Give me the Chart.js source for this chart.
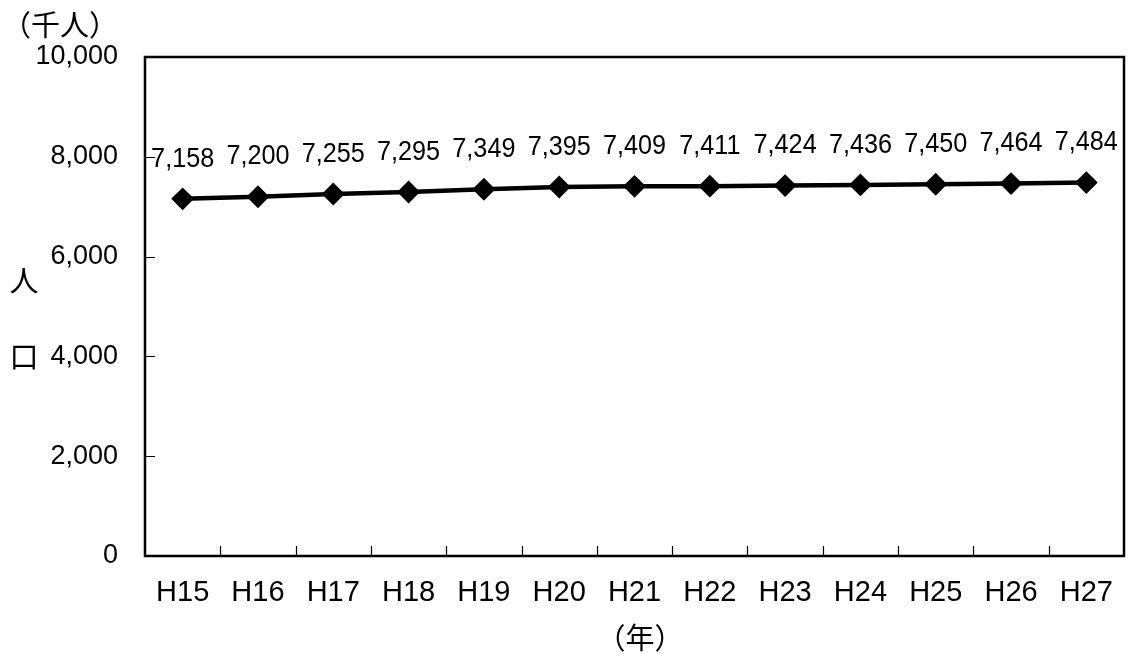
<!DOCTYPE html>
<html>
<head>
<meta charset="utf-8">
<script src="https://cdn.jsdelivr.net/npm/chart.js@4/dist/chart.umd.min.js"></script>
<style>
  html, body { margin: 0; padding: 0; background: #fff; overflow: hidden; }
  #wrap { width: 1128px; height: 654px; position: relative; }
  canvas { display: block; }
</style>
</head>
<body>
<div id="wrap"><canvas id="c"></canvas></div>
<script>
// 年次別の人口（千人）
const years = ['H15', 'H16', 'H17', 'H18', 'H19', 'H20', 'H21', 'H22', 'H23', 'H24', 'H25', 'H26', 'H27'];
const population = [7158, 7200, 7255, 7295, 7349, 7395, 7409, 7411, 7424, 7436, 7450, 7464, 7484];
const yTicks = [0, 2000, 4000, 6000, 8000, 10000];

const fmt = v => v.toLocaleString('en-US');
const CJK = '"Noto Sans CJK JP", "Noto Sans CJK SC", sans-serif';

// 枠線・目盛り線・軸見出し・データラベル
const decorations = {
  id: 'decorations',
  afterDraw(chart) {
    const { ctx, chartArea: a, scales: { x, y } } = chart;
    ctx.save();
    ctx.strokeStyle = '#000';

    // 内向きの目盛り線
    ctx.lineWidth = 1.2;
    ctx.beginPath();
    yTicks.forEach(v => {
      const py = Math.round(y.getPixelForValue(v)) + 0.5;
      ctx.moveTo(a.left, py);
      ctx.lineTo(a.left + 10, py);
    });
    for (let i = 1; i < years.length; i++) {
      const px = Math.round((x.getPixelForValue(i - 1) + x.getPixelForValue(i)) / 2) + 0.5;
      ctx.moveTo(px, a.bottom);
      ctx.lineTo(px, a.bottom - 10);
    }
    ctx.stroke();

    // プロット領域の枠
    ctx.lineWidth = 2.5;
    ctx.strokeRect(a.left, a.top, a.right - a.left, a.bottom - a.top);

    // データラベル
    ctx.fillStyle = '#000';
    ctx.font = '28px "Liberation Sans", Arial, sans-serif';
    ctx.textAlign = 'center';
    ctx.textBaseline = 'middle';
    chart.getDatasetMeta(0).data.forEach((pt, i) => {
      ctx.save();
      ctx.translate(pt.x, pt.y - 40);
      ctx.scale(0.9, 1);
      ctx.fillText(fmt(population[i]), 0, 0);
      ctx.restore();
    });

    // 単位・軸見出し
    ctx.font = '29px ' + CJK;
    ctx.textAlign = 'left';
    ctx.fillText('（千人）', 2, 25);
    ctx.textAlign = 'center';
    ctx.fillText('人', 24, 281);
    ctx.fillText('口', 24, 357);
    ctx.fillText('（年）', 640, 638);
    ctx.restore();
  }
};

new Chart(document.getElementById('c'), {
  type: 'line',
  data: {
    labels: years,
    datasets: [{
      data: population,
      borderColor: '#000',
      backgroundColor: '#000',
      borderWidth: 4.5,
      pointStyle: 'rectRot',
      pointRadius: 10,
      pointBorderWidth: 2,
      pointBorderColor: '#000',
      pointBackgroundColor: '#000',
      tension: 0,
      clip: false
    }]
  },
  options: {
    responsive: true,
    maintainAspectRatio: false,
    animation: false,
    events: [],
    layout: { autoPadding: false, padding: { top: 57, right: 4, bottom: 0, left: 0 } },
    plugins: { legend: { display: false }, tooltip: { enabled: false } },
    scales: {
      x: {
        offset: true,
        grid: { display: false, drawTicks: false },
        border: { display: false },
        ticks: {
          color: '#000',
          padding: 20,
          maxRotation: 0,
          font: { family: '"Liberation Sans", Arial, sans-serif', size: 29 }
        },
        afterFit(s) { s.height = 98; s.paddingLeft = 0; s.paddingRight = 0; }
      },
      y: {
        min: 0,
        max: 10000,
        afterBuildTicks(s) { s.ticks = yTicks.map(v => ({ value: v })); },
        grid: { display: false, drawTicks: false },
        border: { display: false },
        ticks: {
          color: '#000',
          padding: 27,
          font: { family: '"Liberation Sans", Arial, sans-serif', size: 27 },
          callback: v => fmt(v)
        },
        afterFit(s) { s.width = 145; s.paddingTop = 0; s.paddingBottom = 0; }
      }
    }
  },
  plugins: [decorations]
});
</script>
</body>
</html>
